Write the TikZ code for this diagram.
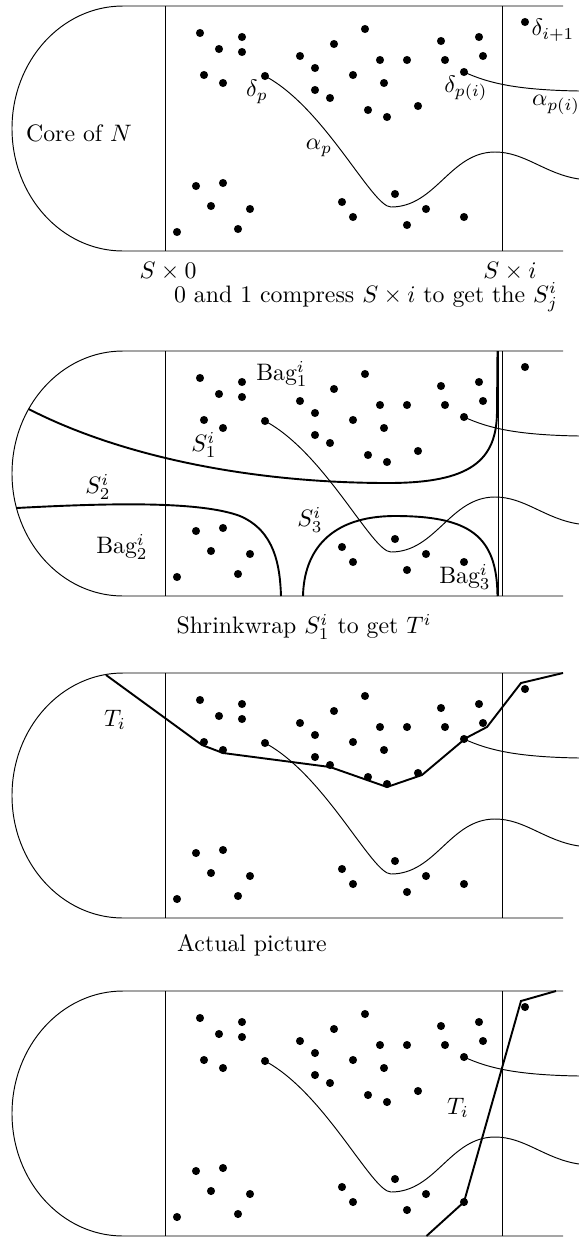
\documentclass[tikz,border=0pt]{standalone}
\usepackage{amsmath}
\usepackage{amssymb}
\usepackage{tikz}
\usetikzlibrary{positioning, calc}

\begin{document}
\begin{tikzpicture}[
  x=0.42pt, y=-0.42pt,
  dotnode/.style={circle, fill, inner sep=0pt, minimum size=3.4pt},
  lbl/.style={inner sep=0.5pt},
  curve/.style={thin},
  wrap/.style={thick},
]

  \useasboundingbox (0,0) rectangle (579,1237);

  % The four copies of the neighbourhood
  \foreach \p/\py in {1/6, 2/351, 3/673, 4/991} {
    \begin{scope}[shift={(0,\py)}]
      \draw (563,0) -- (123,0) arc[start angle=270, end angle=90, x radius=111, y radius=122.5] -- (563,245);
      \draw (165,0) -- (165,245) (502,0) -- (502,245);
      % points of the core
      \foreach \k/\x/\y in {1/200/27, 2/219/43, 3/242/31, 4/242/46, 5/204/69, 6/223/77,
                            7/265/70, 8/300/50, 9/315/62, 10/315/84, 11/330/92, 12/334/38,
                            13/365/23, 14/353/69, 15/380/54, 16/384/77, 17/368/104, 18/387/111,
                            19/407/54, 20/418/100, 21/441/35, 22/445/54, 23/479/31, 24/483/50,
                            25/464/66, 26/525/16, 27/196/180, 28/223/177, 29/211/200, 30/250/203,
                            31/238/223, 32/177/226, 33/342/196, 34/353/211, 35/395/188, 36/426/203,
                            37/407/219, 38/464/211} {
        \node[dotnode] (d\p-\k) at (\x,\y) {};
      }
      % the arcs alpha
      \draw[curve] (d\p-7.center) .. controls (325,102) and (372,201) .. (391,201)
        .. controls (436,201) and (450,146) .. (495,146)
        .. controls (525,146) and (545,168) .. (579,173);
      \draw[curve] (d\p-25.center) .. controls (490,78) and (520,84) .. (579,85);
    \end{scope}
  }

  % Labels of the first picture
  \begin{scope}[shift={(0,6)}]
    \node[lbl] (core) at (79,127) {Core of $N$};
    \node[lbl] (ldp) at (257,86) {$\delta_p$};
    \node[lbl] (lap) at (319,142) {$\alpha_p$};
    \node[lbl] (ldpi) at (466,82) {$\delta_{p(i)}$};
    \node[lbl] (lapi) at (556,99) {$\alpha_{p(i)}$};
    \node[lbl] (ldnext) at (553,24) {$\delta_{i+1}$};
    \node[lbl] (sz) at (168,265) {$S\times 0$};
    \node[lbl] (si) at (510,265) {$S\times i$};
  \end{scope}
  \node[lbl] (cap1) at (366,297) {0 and 1 compress $S\times i$ to get the $S^i_j$};

  % The pieces S_j^i and the bags
  \begin{scope}[shift={(0,351)}]
    \draw (498.5,0) -- (498.5,245);
    \draw[wrap] (28.6,58) .. controls (120,105) and (250,132) .. (388,132)
      .. controls (470,132) and (497,110) .. (497,60) -- (497.5,0);
    \draw[wrap] (16.5,157) .. controls (110,152) and (200,150) .. (240,165)
      .. controls (275,180) and (280,215) .. (281,245);
    \draw[wrap] (303,245) .. controls (304,200) and (330,165) .. (395,165)
      .. controls (470,165) and (497,185) .. (497.5,245);
    \node[lbl] (bag1) at (282,23) {Bag$^i_1$};
    \node[lbl] (s1) at (204,94) {$S^i_1$};
    \node[lbl] (s2) at (98,136) {$S^i_2$};
    \node[lbl] (s3) at (310,169) {$S^i_3$};
    \node[lbl] (bag2) at (122,196) {Bag$^i_2$};
    \node[lbl] (bag3) at (465,226) {Bag$^i_3$};
  \end{scope}
  \node[lbl] (cap2) at (304,627) {Shrinkwrap $S^i_1$ to get $T^i$};

  % Shrinkwrapped T_i
  \begin{scope}[shift={(0,673)}]
    \draw[wrap] (106,2) -- (202,72) -- (223,80) -- (330,94) -- (387,114) -- (422,102)
      -- (466,65) -- (487,54) -- (521,10) -- (563,0);
    \node[lbl] (ti) at (115,47) {$T_i$};
  \end{scope}
  \node[lbl] (cap3) at (252,945) {Actual picture};

  % The actual T_i
  \begin{scope}[shift={(0,991)}]
    \draw[wrap] (426.5,245) -- (d4-38.center) -- (521,10) -- (556,0);
    \node[lbl] (tact) at (458,117) {$T_i$};
  \end{scope}

\end{tikzpicture}
\end{document}
